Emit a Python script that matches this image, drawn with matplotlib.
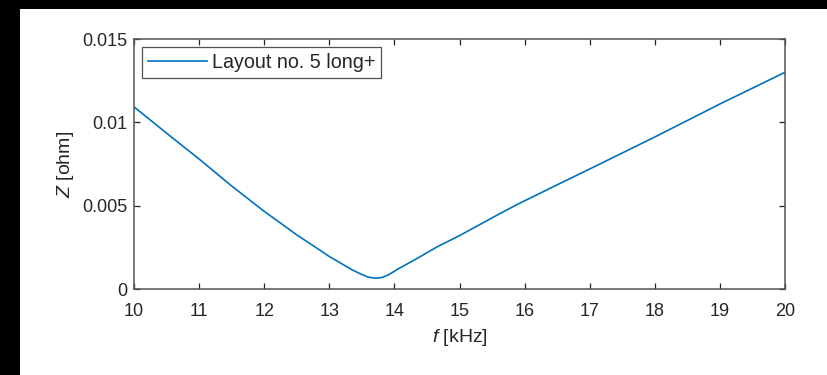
import matplotlib
matplotlib.use("Agg")
import matplotlib.pyplot as plt
from matplotlib.patches import Rectangle

plt.rcParams['font.family'] = ['Liberation Sans', 'DejaVu Sans']
plt.rcParams['mathtext.fontset'] = 'custom'
plt.rcParams['mathtext.rm'] = 'Liberation Sans'
plt.rcParams['mathtext.it'] = 'Liberation Sans:italic'

# Impedance magnitude vs. frequency
freq_khz = [10.0, 10.5, 11.0, 11.5, 12.0, 12.5, 12.84, 13.0, 13.15, 13.35,
            13.5, 13.6, 13.71, 13.81, 13.91, 14.06, 14.37, 14.67, 14.98, 15.29,
            15.59, 15.89, 16.5, 17.0, 18.0, 19.0, 20.0]
z_ohm = [0.01093, 0.00935, 0.00780, 0.00618, 0.00466, 0.00325, 0.00237, 0.00195,
         0.00161, 0.00115, 0.00087, 0.00071, 0.00065, 0.00069, 0.00085, 0.00121,
         0.00188, 0.00256, 0.00316, 0.00382, 0.00446, 0.00508, 0.00625, 0.00720,
         0.00912, 0.01110, 0.01300]
series_label = "Layout no. 5 long+"

x_ticks = [10, 11, 12, 13, 14, 15, 16, 17, 18, 19, 20]
y_ticks = [0, 0.005, 0.01, 0.015]
y_tick_labels = ["0", "0.005", "0.01", "0.015"]

txt = "#262626"
fig = plt.figure(figsize=(8.27, 3.75), dpi=100)
fig.patch.set_facecolor("white")
# dark frame strips along the top and left edges
fig.patches.append(Rectangle((0, 1 - 9 / 375), 1, 9 / 375, transform=fig.transFigure,
                             facecolor="black", edgecolor="none", zorder=0))
fig.patches.append(Rectangle((0, 0), 20 / 827, 1, transform=fig.transFigure,
                             facecolor="black", edgecolor="none", zorder=0))

ax = fig.add_axes([134 / 827, 1 - 289 / 375, (785 - 134) / 827, (289 - 39) / 375])
ax.plot(freq_khz, z_ohm, color="#0072BD", lw=1.2, label=series_label)

ax.set_xlim(10, 20)
ax.set_ylim(0, 0.015)
ax.set_xticks(x_ticks)
ax.set_xticklabels([str(t) for t in x_ticks])
ax.set_yticks(y_ticks)
ax.set_yticklabels(y_tick_labels)

ax.tick_params(direction="in", length=4.5, width=0.9, colors=txt, labelsize=13,
               top=True, right=True)
ax.tick_params(axis="x", pad=10)
ax.tick_params(axis="y", pad=5)
for s in ax.spines.values():
    s.set_color("#555555")
    s.set_linewidth(1.1)

ax.set_xlabel(r"$f$ [kHz]", fontsize=14, color=txt, labelpad=5)
ax.set_ylabel(r"$Z$ [ohm]", fontsize=14, color=txt, labelpad=4)

leg = ax.legend(loc="upper left", fontsize=14.2, frameon=True, fancybox=False,
                borderpad=0.3, handlelength=3.0, handletextpad=0.25,
                borderaxespad=0.4)
leg.get_frame().set_edgecolor(txt)
leg.get_frame().set_linewidth(0.9)
for t in leg.get_texts():
    t.set_color(txt)

fig.savefig("out.png", dpi=100, facecolor=fig.get_facecolor())
